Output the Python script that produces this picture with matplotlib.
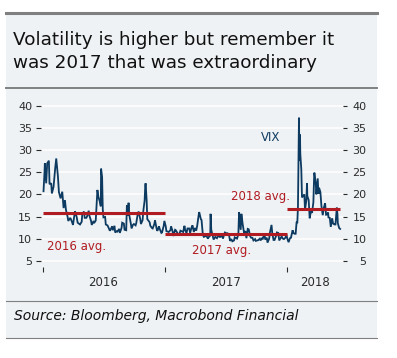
import matplotlib
matplotlib.use("Agg")
import matplotlib.pyplot as plt
from matplotlib.lines import Line2D
from matplotlib.patches import Rectangle
import pandas as pd

# ---------------- data ----------------
vix_dates = [
    "2016-01-04", "2016-01-07", "2016-01-08", "2016-01-12", "2016-01-15", "2016-01-20", "2016-01-22",
    "2016-01-27", "2016-01-29", "2016-02-03", "2016-02-05", "2016-02-08", "2016-02-11", "2016-02-16",
    "2016-02-19", "2016-02-24", "2016-02-29", "2016-03-04", "2016-03-08", "2016-03-11", "2016-03-16",
    "2016-03-18", "2016-03-24", "2016-03-29", "2016-04-01", "2016-04-07", "2016-04-12", "2016-04-15",
    "2016-04-20", "2016-04-22", "2016-04-27", "2016-04-29", "2016-05-04", "2016-05-06", "2016-05-11",
    "2016-05-13", "2016-05-18", "2016-05-20", "2016-05-25", "2016-05-27", "2016-06-02", "2016-06-03",
    "2016-06-08", "2016-06-10", "2016-06-13", "2016-06-16", "2016-06-20", "2016-06-23", "2016-06-24",
    "2016-06-27", "2016-06-29", "2016-07-01", "2016-07-06", "2016-07-08", "2016-07-13", "2016-07-15",
    "2016-07-20", "2016-07-22", "2016-07-27", "2016-07-29", "2016-08-03", "2016-08-05", "2016-08-10",
    "2016-08-12", "2016-08-17", "2016-08-19", "2016-08-24", "2016-08-26", "2016-08-31", "2016-09-02",
    "2016-09-07", "2016-09-09", "2016-09-12", "2016-09-14", "2016-09-16", "2016-09-21", "2016-09-23",
    "2016-09-27", "2016-09-30", "2016-10-05", "2016-10-07", "2016-10-11", "2016-10-14", "2016-10-19",
    "2016-10-21", "2016-10-26", "2016-10-28", "2016-11-01", "2016-11-03", "2016-11-04", "2016-11-07",
    "2016-11-09", "2016-11-11", "2016-11-16", "2016-11-18", "2016-11-23", "2016-11-25", "2016-11-30",
    "2016-12-02", "2016-12-07", "2016-12-09", "2016-12-14", "2016-12-16", "2016-12-21", "2016-12-23",
    "2016-12-28", "2016-12-30",
    "2017-01-03", "2017-01-05", "2017-01-09", "2017-01-12", "2017-01-17", "2017-01-19", "2017-01-23",
    "2017-01-26", "2017-01-31", "2017-02-02", "2017-02-06", "2017-02-09", "2017-02-13", "2017-02-16",
    "2017-02-21", "2017-02-24", "2017-02-28", "2017-03-02", "2017-03-06", "2017-03-09", "2017-03-14",
    "2017-03-17", "2017-03-21", "2017-03-24", "2017-03-28", "2017-03-31", "2017-04-04", "2017-04-07",
    "2017-04-11", "2017-04-13", "2017-04-18", "2017-04-20", "2017-04-24", "2017-04-27", "2017-05-02",
    "2017-05-05", "2017-05-09", "2017-05-12", "2017-05-16", "2017-05-17", "2017-05-19", "2017-05-23",
    "2017-05-26", "2017-05-31", "2017-06-05", "2017-06-09", "2017-06-13", "2017-06-16", "2017-06-20",
    "2017-06-23", "2017-06-27", "2017-06-29", "2017-07-05", "2017-07-07", "2017-07-11", "2017-07-14",
    "2017-07-18", "2017-07-21", "2017-07-26", "2017-07-28", "2017-08-01", "2017-08-04", "2017-08-08",
    "2017-08-10", "2017-08-11", "2017-08-15", "2017-08-17", "2017-08-21", "2017-08-25", "2017-08-29",
    "2017-09-01", "2017-09-05", "2017-09-08", "2017-09-12", "2017-09-15", "2017-09-19", "2017-09-22",
    "2017-09-27", "2017-09-29", "2017-10-04", "2017-10-06", "2017-10-11", "2017-10-13", "2017-10-18",
    "2017-10-20", "2017-10-25", "2017-10-27", "2017-11-01", "2017-11-03", "2017-11-08", "2017-11-10",
    "2017-11-15", "2017-11-17", "2017-11-21", "2017-11-24", "2017-11-29", "2017-12-01", "2017-12-05",
    "2017-12-08", "2017-12-13", "2017-12-15", "2017-12-19", "2017-12-22", "2017-12-27", "2017-12-29",
    "2018-01-02", "2018-01-05", "2018-01-09", "2018-01-12", "2018-01-17", "2018-01-19", "2018-01-23",
    "2018-01-26", "2018-01-29", "2018-01-31", "2018-02-02", "2018-02-05", "2018-02-06", "2018-02-07",
    "2018-02-08", "2018-02-09", "2018-02-12", "2018-02-14", "2018-02-16", "2018-02-21", "2018-02-23",
    "2018-02-27", "2018-03-01", "2018-03-02", "2018-03-06", "2018-03-09", "2018-03-13", "2018-03-16",
    "2018-03-20", "2018-03-22", "2018-03-23", "2018-03-27", "2018-03-29", "2018-04-02", "2018-04-04",
    "2018-04-06", "2018-04-10", "2018-04-13", "2018-04-17", "2018-04-20", "2018-04-24", "2018-04-27",
    "2018-05-01", "2018-05-03", "2018-05-04", "2018-05-08", "2018-05-11", "2018-05-15", "2018-05-18",
    "2018-05-22", "2018-05-25", "2018-05-29", "2018-05-31", "2018-06-01", "2018-06-05", "2018-06-08",
]
vix_values = [
    20.7, 25.0, 27.0, 22.5, 27.0, 27.6, 22.3,
    22.5, 20.2, 21.7, 23.4, 26.0, 28.1, 24.1,
    20.5, 19.1, 20.6, 16.9, 18.7, 16.5, 14.9,
    14.0, 14.7, 13.8, 13.1, 16.2, 14.9, 13.6,
    13.3, 13.2, 13.8, 15.7, 16.1, 14.7, 14.7,
    15.0, 16.3, 15.2, 14.0, 13.1, 14.0, 13.5,
    14.1, 17.0, 21.0, 19.4, 18.4, 17.3, 25.8,
    23.9, 16.6, 14.8, 14.9, 13.2, 13.0, 12.7,
    11.8, 12.0, 12.8, 11.9, 12.9, 11.4, 11.7,
    11.6, 12.2, 11.3, 12.4, 13.6, 13.4, 12.0,
    11.9, 17.5, 15.2, 18.1, 15.4, 13.3, 12.3,
    13.1, 13.3, 13.0, 13.5, 15.4, 16.1, 14.4,
    13.3, 14.2, 16.2, 18.6, 22.1, 22.5, 18.7,
    14.4, 14.2, 13.7, 12.9, 12.4, 12.3, 13.3,
    14.1, 12.2, 11.75, 12.8, 12.2, 11.3, 11.4,
    12.9, 14.0,
    12.8, 11.7, 11.6, 11.5, 11.9, 12.8, 11.8,
    10.6, 12.0, 11.9, 11.4, 10.9, 11.1, 11.8,
    11.6, 11.5, 12.9, 12.0, 11.2, 12.3, 12.3,
    11.3, 12.5, 13.0, 11.5, 12.4, 11.8, 12.9,
    15.1, 16.0, 14.4, 14.2, 10.8, 10.4, 10.6,
    10.6, 10.0, 10.4, 10.7, 15.6, 12.0, 10.7,
    9.8, 10.4, 10.1, 10.7, 10.4, 10.4, 10.9,
    10.0, 11.1, 11.4, 11.1, 11.2, 10.9, 9.5,
    9.9, 9.4, 9.6, 10.3, 10.1, 10.0, 11.0,
    16.0, 15.5, 12.0, 15.6, 13.2, 11.3, 11.7,
    10.1, 12.2, 12.1, 10.6, 10.2, 10.2, 9.6,
    9.9, 9.5, 9.6, 9.65, 10.0, 9.6, 10.1,
    10.0, 11.2, 9.8, 10.2, 9.1, 10.0, 11.3,
    13.1, 11.4, 9.7, 9.7, 10.7, 11.4, 11.3,
    9.6, 10.2, 10.5, 10.0, 9.9, 10.25, 11.0,
    9.8, 9.2, 10.1, 10.2, 11.9, 11.3, 11.1,
    11.1, 13.8, 13.5, 17.3, 37.3, 30.0, 27.7,
    33.5, 29.1, 25.6, 19.3, 19.5, 20.0, 16.5,
    18.6, 22.5, 19.6, 18.7, 14.6, 16.4, 15.8,
    18.2, 23.3, 24.9, 22.5, 20.0, 23.6, 20.1,
    21.5, 20.5, 17.4, 15.3, 16.9, 18.0, 15.4,
    15.5, 15.9, 14.8, 14.7, 12.65, 14.6, 13.4,
    13.2, 13.2, 17.0, 15.4, 13.5, 12.4, 12.2,
]

avg_labels = ["2016 avg.", "2017 avg.", "2018 avg."]
avg_starts = ["2016-01-01", "2017-01-01", "2018-01-01"]
avg_ends = ["2017-01-01", "2018-01-01", "2018-06-08"]
avg_values = [15.8, 11.1, 16.7]

y_ticks = [5, 10, 15, 20, 25, 30, 35, 40]
year_ticks = ["2016-01-01", "2017-01-01", "2018-01-01"]
year_labels = ["2016", "2017", "2018"]
year_label_pos = ["2016-07-01", "2017-07-02", "2018-03-24"]

title_lines = ["Volatility is higher but remember it",
               "was 2017 that was extraordinary"]
source_text = "Source: Bloomberg, Macrobond Financial"

# ---------------- style ----------------
W, H = 397, 358
BG = "#eef2f4"
RULE = "#808080"
NAVY = "#0d3a60"
RED = "#b01c22"
TXT = "#2b2b2b"

def fx(px):
    return px / W

def fy(py):
    return 1 - py / H

fig = plt.figure(figsize=(W / 100, H / 100), dpi=100)
fig.patch.set_facecolor("white")

fig.patches.append(Rectangle((fx(6), fy(338)), fx(377) - fx(6), fy(12) - fy(338),
                             transform=fig.transFigure, facecolor=BG, edgecolor="none", zorder=-5))
for ypx, lw in [(12.7, 2.2), (88, 1.4), (301, 0.8), (338, 0.8)]:
    fig.add_artist(Line2D([fx(6), fx(377)], [fy(ypx), fy(ypx)], color=RULE, lw=lw,
                          transform=fig.transFigure))

fig.text(fx(13), fy(45), title_lines[0], fontsize=13.2, color="#111111", va="baseline", ha="left")
fig.text(fx(13), fy(68.5), title_lines[1], fontsize=13.2, color="#111111", va="baseline", ha="left")
fig.text(fx(14), fy(320), source_text, fontsize=10, style="italic", color="#111111",
         va="baseline", ha="left")

# ---------------- axes ----------------
ax_l, ax_r, ax_t, ax_b = 41, 342.5, 100, 267
ax = fig.add_axes([fx(ax_l), fy(ax_b), fx(ax_r) - fx(ax_l), fy(ax_t) - fy(ax_b)])
ax.set_facecolor("none")
ax.set_zorder(2)
for s in ax.spines.values():
    s.set_visible(False)

dates = pd.to_datetime(vix_dates)
ax.plot(dates, vix_values, color=NAVY, lw=1.3, zorder=3, solid_joinstyle="miter")

for lab, s, e, v in zip(avg_labels, avg_starts, avg_ends, avg_values):
    ax.plot([pd.Timestamp(s), pd.Timestamp(e)], [v, v], color=RED, lw=2.2,
            solid_capstyle="butt", zorder=4)

ylo, yhi = 3.6, 41.3
ax.set_ylim(ylo, yhi)
ax.set_xlim(pd.Timestamp("2015-12-27 12:00"), pd.Timestamp("2018-06-15"))
ax.set_yticks(y_ticks)
ax.yaxis.grid(True, color="white", lw=1.1)
ax.set_axisbelow(True)
ax.tick_params(axis="y", length=3.3, width=0.8, color=TXT, pad=3, labelsize=8, labelcolor=TXT)

ax.set_xticks(pd.to_datetime(year_ticks))
ax.set_xticklabels([])
ax.set_xticks(pd.to_datetime(year_label_pos), minor=True)
ax.set_xticklabels(year_labels, minor=True)
ax.tick_params(axis="x", which="major", length=3.4, width=0.8, color=TXT)
ax.tick_params(axis="x", which="minor", length=0, pad=6.5, labelsize=8.5, labelcolor=TXT)

ax2 = ax.twinx()
ax2.set_ylim(ylo, yhi)
ax2.set_facecolor("none")
for s in ax2.spines.values():
    s.set_visible(False)
ax2.set_yticks(y_ticks)
ax2.tick_params(axis="y", length=3.0, width=0.8, color=TXT, pad=14.2, labelsize=8, labelcolor=TXT)
for t in ax2.get_yticklabels():
    t.set_horizontalalignment("right")

# annotations
ax.text(pd.Timestamp("2016-01-14"), 8.3, avg_labels[0], color=RED, fontsize=8.5, va="center", ha="left")
ax.text(pd.Timestamp("2017-03-22"), 7.4, avg_labels[1], color=RED, fontsize=8.5, va="center", ha="left")
ax.text(pd.Timestamp("2017-07-17"), 19.5, avg_labels[2], color=RED, fontsize=8.5, va="center", ha="left")
ax.text(pd.Timestamp("2017-10-15"), 32.9, "VIX", color=NAVY, fontsize=8.5, va="center", ha="left")

fig.savefig("out.png", dpi=100)
